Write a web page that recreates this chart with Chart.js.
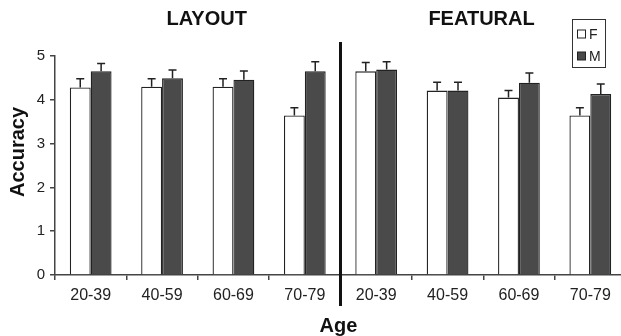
<!DOCTYPE html>
<html>
<head>
<meta charset="utf-8">
<script src="https://cdn.jsdelivr.net/npm/chart.js@4.4.0/dist/chart.umd.min.js"></script>
<style>
  html, body { margin: 0; padding: 0; background: #fff; overflow: hidden; }
  #wrap { position: absolute; left: 0; top: 0; width: 630px; height: 336px; }
</style>
</head>
<body>
<div id="wrap"><canvas id="chart"></canvas></div>
<script>
// --- Data ---
const ageGroups = ['20-39', '40-59', '60-69', '70-79'];
const panels = ['LAYOUT', 'FEATURAL'];
const seriesNames = ['F', 'M'];
const femaleMeans = [4.28, 4.30, 4.30, 3.64, 4.65, 4.21, 4.05, 3.64];
const maleMeans = [4.65, 4.49, 4.46, 4.65, 4.69, 4.21, 4.39, 4.13];
const femaleErrors = [0.20, 0.18, 0.18, 0.18, 0.20, 0.19, 0.16, 0.18];
const maleErrors = [0.18, 0.19, 0.20, 0.22, 0.18, 0.19, 0.22, 0.23];
const yTicks = [0, 1, 2, 3, 4, 5];

const labels = panels.flatMap(() => ageGroups);
const FONT = "'Liberation Sans', Arial, Helvetica, sans-serif";
const INK = '#222';
const DARK = '#4a4a4a';

// --- Error bars (upper only) ---
const errorBars = {
    id: 'errorBars',
    afterDatasetsDraw(chart) {
        const ctx = chart.ctx;
        const yScale = chart.scales.y;
        const errs = [femaleErrors, maleErrors];
        ctx.save();
        ctx.strokeStyle = INK;
        ctx.lineWidth = 1.5;
        chart.data.datasets.forEach((ds, i) => {
            chart.getDatasetMeta(i).data.forEach((bar, j) => {
                const top = yScale.getPixelForValue(ds.data[j] + errs[i][j]);
                ctx.beginPath();
                ctx.moveTo(bar.x, bar.y);
                ctx.lineTo(bar.x, top);
                ctx.moveTo(bar.x - 4, top);
                ctx.lineTo(bar.x + 4, top);
                ctx.stroke();
            });
        });
        ctx.restore();
    }
};

// --- Divider, panel titles, axis titles, legend ---
const decorations = {
    id: 'decorations',
    afterDraw(chart) {
        const ctx = chart.ctx;
        const x = chart.scales.x;
        const area = chart.chartArea;
        ctx.save();

        // divider between the two panels
        const half = ageGroups.length;
        const divX = (x.getPixelForValue(half - 1) + x.getPixelForValue(half)) / 2;
        ctx.strokeStyle = '#111';
        ctx.lineWidth = 3;
        ctx.beginPath();
        ctx.moveTo(divX, 42);
        ctx.lineTo(divX, 306);
        ctx.stroke();

        // panel titles
        ctx.fillStyle = '#111';
        ctx.font = 'bold 20px ' + FONT;
        ctx.textAlign = 'center';
        ctx.textBaseline = 'middle';
        const titlePos = [1.625, 5.476];
        panels.forEach((p, i) => {
            ctx.fillText(p, x.getPixelForValue(titlePos[i]), 19);
        });

        // axis titles
        ctx.fillText('Age', (area.left + area.right) / 2 - 2, 326);
        ctx.save();
        ctx.translate(18, 152);
        ctx.rotate(-Math.PI / 2);
        ctx.fillText('Accuracy', 0, 0);
        ctx.restore();

        // legend box
        ctx.lineWidth = 1;
        ctx.strokeStyle = '#333';
        ctx.strokeRect(572.5, 19.5, 33, 48);
        const fills = ['#fff', DARK];
        const rowsY = [34, 56];
        ctx.font = '14px ' + FONT;
        ctx.textAlign = 'left';
        seriesNames.forEach((name, i) => {
            ctx.fillStyle = fills[i];
            ctx.fillRect(577.5, rowsY[i] - 4, 8, 8);
            ctx.strokeStyle = INK;
            ctx.strokeRect(577.5, rowsY[i] - 4, 8, 8);
            ctx.fillStyle = INK;
            ctx.fillText(name, 589, rowsY[i] + 1);
        });

        ctx.restore();
    }
};

const ctx = document.getElementById('chart').getContext('2d');
new Chart(ctx, {
    type: 'bar',
    data: {
        labels: labels,
        datasets: [
            {
                label: seriesNames[0],
                data: femaleMeans,
                backgroundColor: '#fff',
                borderColor: INK,
                borderWidth: 1.3,
                borderSkipped: 'bottom'
            },
            {
                label: seriesNames[1],
                data: maleMeans,
                backgroundColor: DARK,
                borderColor: INK,
                borderWidth: 1.3,
                borderSkipped: 'bottom'
            }
        ]
    },
    options: {
        responsive: true,
        maintainAspectRatio: false,
        animation: false,
        datasets: { bar: { categoryPercentage: 0.585, barPercentage: 1.0 } },
        layout: { padding: { top: 56, right: 4, left: 0, bottom: 0 } },
        scales: {
            x: {
                grid: { drawOnChartArea: false, color: '#444', lineWidth: 1.5, tickLength: 5, offset: true },
                border: { color: '#444', width: 1.5 },
                ticks: { color: INK, font: { family: FONT, size: 16 }, padding: 6, maxRotation: 0, autoSkip: false },
                afterFit: (scale) => { scale.height = 61; }
            },
            y: {
                min: 0,
                max: 5,
                afterBuildTicks: (scale) => { scale.ticks = yTicks.map(v => ({ value: v })); },
                grid: { drawOnChartArea: false, color: '#444', lineWidth: 1.5, tickLength: 5 },
                border: { color: '#444', width: 1.5 },
                ticks: { color: INK, font: { family: FONT, size: 15 }, padding: 5 },
                afterFit: (scale) => { scale.width = 55; }
            }
        },
        plugins: {
            legend: { display: false },
            tooltip: { enabled: false }
        }
    },
    plugins: [errorBars, decorations]
});
</script>
</body>
</html>
